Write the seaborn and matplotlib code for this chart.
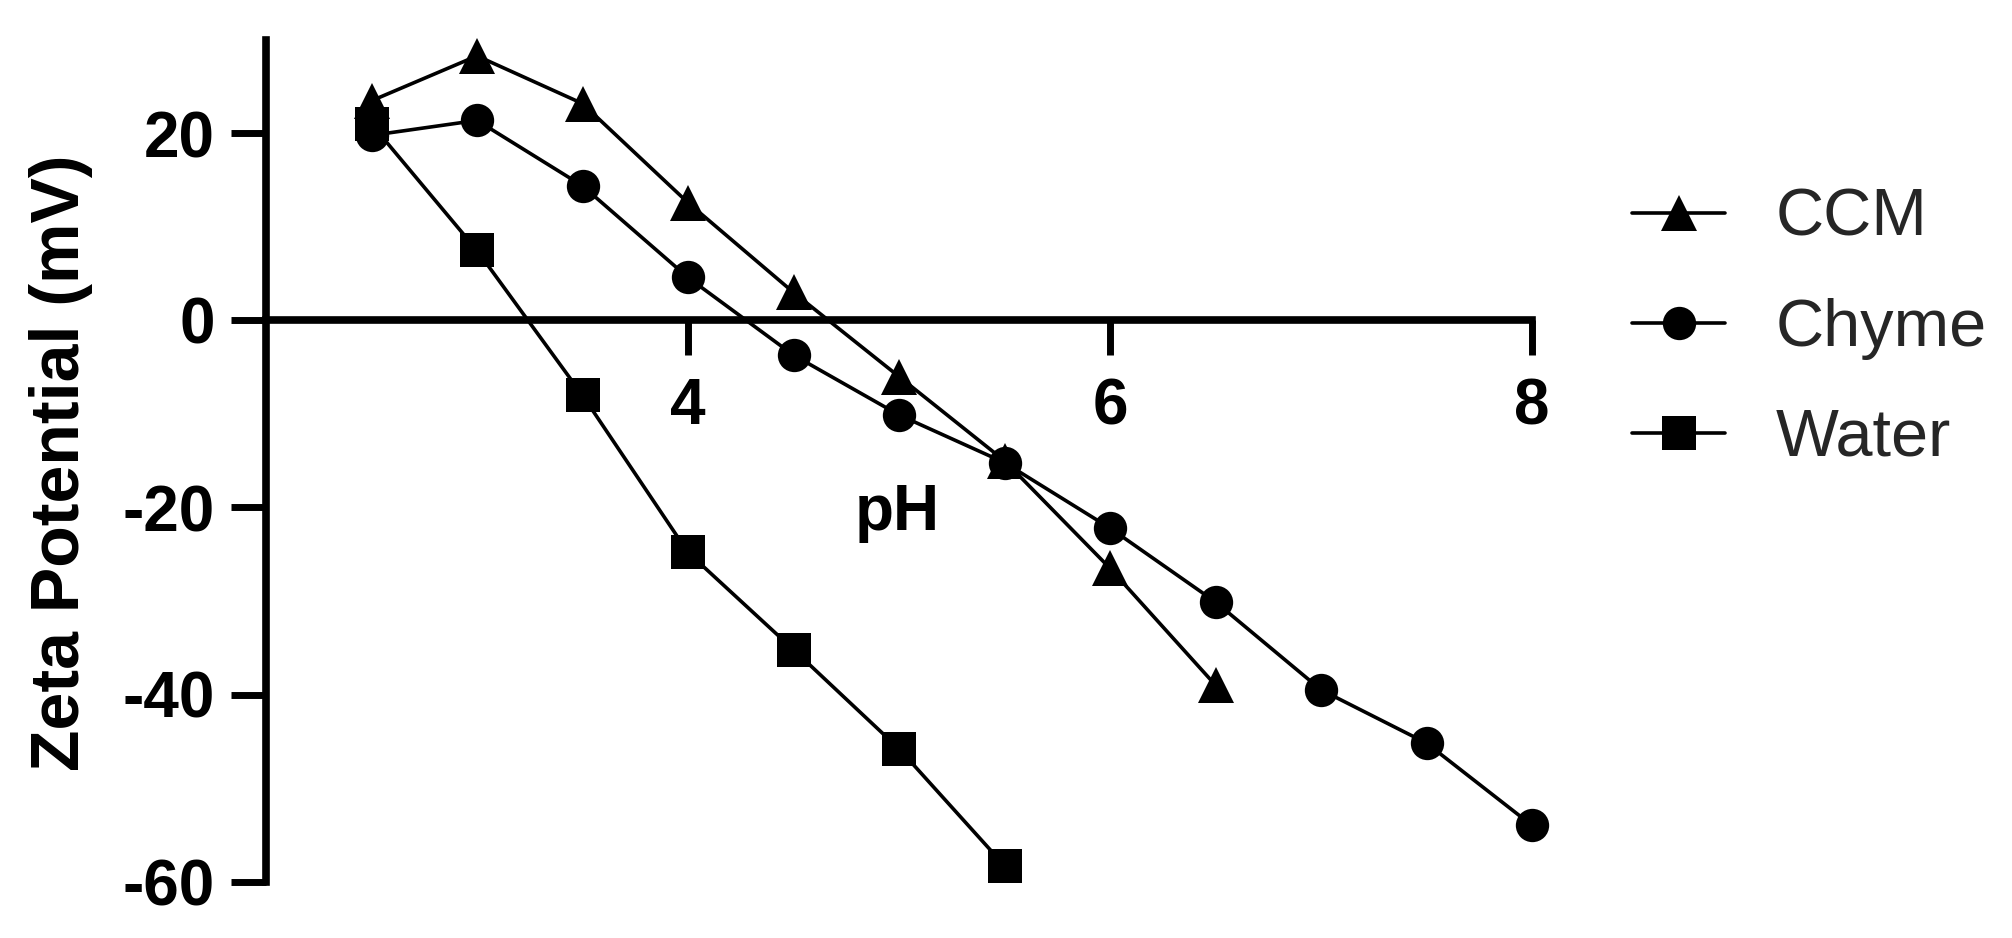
import numpy as np
import pandas as pd
import matplotlib
matplotlib.use("Agg")
import matplotlib.pyplot as plt
import seaborn as sns

# ---- data ----
series_names = ["CCM", "Chyme", "Water"]
ph_ccm = [2.5, 3.0, 3.5, 4.0, 4.5, 5.0, 5.5, 6.0, 6.5]
zeta_ccm = [23.5, 28.3, 23.2, 12.6, 3.0, -6.0, -15.0, -26.5, -39.0]
ph_chyme = [2.5, 3.0, 3.5, 4.0, 4.5, 5.0, 5.5, 6.0, 6.5, 7.0, 7.5, 8.0]
zeta_chyme = [19.8, 21.4, 14.4, 4.6, -3.7, -10.1, -15.2, -22.2, -30.1, -39.5, -45.2, -54.0]
ph_water = [2.5, 3.0, 3.5, 4.0, 4.5, 5.0, 5.5]
zeta_water = [21.0, 7.5, -8.0, -24.8, -35.2, -45.8, -58.3]
x_ticks = [4, 6, 8]
y_ticks = [-60, -40, -20, 0, 20]

df = pd.concat([
    pd.DataFrame({"pH": ph_ccm, "zeta": zeta_ccm, "Sample": "CCM"}),
    pd.DataFrame({"pH": ph_chyme, "zeta": zeta_chyme, "Sample": "Chyme"}),
    pd.DataFrame({"pH": ph_water, "zeta": zeta_water, "Sample": "Water"}),
], ignore_index=True)

sns.set_theme(style="ticks")
plt.rcParams["font.family"] = ["Liberation Sans", "DejaVu Sans"]
plt.rcParams["axes.unicode_minus"] = False

W, H = 2012, 938
fig = plt.figure(figsize=(W / 100, H / 100), dpi=100)
ax = fig.add_axes([266 / W, 1 - 881.5 / H, (1532 - 266) / W, (881.5 - 40) / H])

markers = {"CCM": "^", "Chyme": "o", "Water": "s"}
palette = {k: "black" for k in series_names}
sns.lineplot(data=df, x="pH", y="zeta", hue="Sample", style="Sample",
             hue_order=series_names, style_order=series_names,
             markers=markers, dashes=False, palette=palette,
             linewidth=2.6, markersize=24, markeredgewidth=0,
             ax=ax, legend=True, sort=False, clip_on=False)

# triangles drawn a little larger, as in the original
for ln in ax.lines:
    if ln.get_marker() == "^":
        ln.set_markersize(26)

ax.set_xlim(2, 8)
ax.set_ylim(-60, 30)
ax.set_xticks(x_ticks)
ax.set_yticks(y_ticks)

for s in ["top", "right"]:
    ax.spines[s].set_visible(False)
ax.spines["bottom"].set_position(("data", 0))
for s in ["left", "bottom"]:
    ax.spines[s].set_linewidth(5.5)
    ax.spines[s].set_color("black")

ax.tick_params(axis="both", which="major", direction="out", length=25, width=5,
               color="black", labelsize=46, labelcolor="black",
               bottom=True, left=True, top=False, right=False)
ax.tick_params(axis="x", pad=16)
ax.tick_params(axis="y", pad=12)
for lab in ax.get_xticklabels() + ax.get_yticklabels():
    lab.set_fontweight("bold")

ax.set_xlabel("pH", fontsize=46, fontweight="bold", color="black")
ax.xaxis.label.set_va("baseline")
ax.xaxis.set_label_coords(0.499, (881.5 - 530) / 841.5)
ax.set_ylabel("Zeta Potential (mV)", fontsize=49, fontweight="bold", color="black")
ax.yaxis.label.set_va("center")
ax.yaxis.set_label_coords((61 - 266) / 1266, (881.5 - 463) / 841.5)

handles, labels = ax.get_legend_handles_labels()
ax.get_legend().remove()
for h in handles:
    h.set_linewidth(2.6)
    if h.get_marker() == "^":
        h.set_markersize(26)
fig.legend(handles, labels, loc="center left",
           bbox_to_anchor=(1632 / W, 1 - 329 / H), frameon=False,
           fontsize=48, handlelength=1.4, handletextpad=0.75,
           labelspacing=0.72, borderpad=0, borderaxespad=0)

fig.savefig("out.png", dpi=100, facecolor="white")
